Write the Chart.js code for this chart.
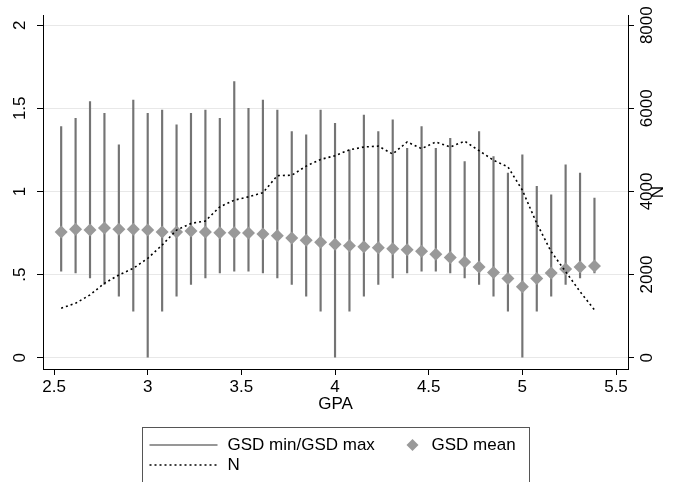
<!DOCTYPE html>
<html>
<head>
<meta charset="utf-8">
<script src="https://cdn.jsdelivr.net/npm/chart.js@4.4.1/dist/chart.umd.min.js"></script>
<style>
  html, body { margin: 0; padding: 0; background: #fff; }
</style>
</head>
<body>
<canvas id="gsdChart" width="683" height="482"></canvas>
<script>
// GPA bins (steps of 1/13)
const gpa = [2.538, 2.615, 2.692, 2.769, 2.846, 2.923, 3.000, 3.077, 3.154, 3.231,
             3.308, 3.385, 3.462, 3.538, 3.615, 3.692, 3.769, 3.846, 3.923, 4.000,
             4.077, 4.154, 4.231, 4.308, 4.385, 4.462, 4.538, 4.615, 4.692, 4.769,
             4.846, 4.923, 5.000, 5.077, 5.154, 5.231, 5.308, 5.385];
const gsdMin = [0.52, 0.51, 0.48, 0.44, 0.37, 0.28, 0.00, 0.28, 0.37, 0.44,
                0.48, 0.51, 0.52, 0.52, 0.51, 0.48, 0.44, 0.37, 0.28, 0.00,
                0.28, 0.37, 0.44, 0.48, 0.51, 0.52, 0.52, 0.51, 0.48, 0.44,
                0.37, 0.28, 0.00, 0.28, 0.37, 0.44, 0.48, 0.51];
const gsdMax = [1.39, 1.44, 1.54, 1.47, 1.28, 1.55, 1.47, 1.49, 1.40, 1.47,
                1.49, 1.44, 1.66, 1.50, 1.55, 1.49, 1.36, 1.34, 1.49, 1.41,
                1.25, 1.46, 1.36, 1.43, 1.26, 1.39, 1.26, 1.32, 1.18, 1.36,
                1.21, 1.11, 1.22, 1.03, 0.98, 1.16, 1.11, 0.96];
const gsdMean = [0.756, 0.772, 0.768, 0.780, 0.772, 0.772, 0.768, 0.756, 0.756, 0.762,
                 0.756, 0.752, 0.752, 0.750, 0.744, 0.734, 0.720, 0.706, 0.694, 0.682,
                 0.674, 0.668, 0.662, 0.656, 0.650, 0.640, 0.622, 0.602, 0.576, 0.546,
                 0.512, 0.476, 0.426, 0.476, 0.510, 0.534, 0.546, 0.552];
const nCount = [1190, 1310, 1510, 1790, 1990, 2150, 2390, 2710, 3070, 3230,
                3290, 3630, 3790, 3870, 3970, 4380, 4390, 4610, 4770, 4860,
                5000, 5070, 5090, 4900, 5190, 5030, 5190, 5070, 5210, 4980,
                4750, 4590, 4030, 3230, 2550, 2070, 1590, 1150];

const gpaTicks = [2.5, 3, 3.5, 4, 4.5, 5, 5.5];
const gsdTicks = [0, 0.5, 1, 1.5, 2];
const nTicks = [0, 2000, 4000, 6000, 8000];

const FONT = '"Liberation Sans", Arial, Helvetica, sans-serif';
const BAR_COLOR = '#747474';
const MEAN_COLOR = '#999999';

Chart.defaults.font.family = FONT;
Chart.defaults.font.size = 17;
Chart.defaults.color = '#000';

function fixedTicks(values) {
    return axis => { axis.ticks = values.map(v => ({ value: v })); };
}

// Stata-like boxed legend below the plot, plus the rotated "N" axis title
const stataExtras = {
    id: 'stataExtras',
    afterDraw(chart) {
        const ctx = chart.ctx;
        const area = chart.chartArea;
        const sets = chart.data.datasets;
        ctx.save();

        // right axis title
        ctx.font = '17px ' + FONT;
        ctx.fillStyle = '#000';
        ctx.textAlign = 'center';
        ctx.textBaseline = 'middle';
        ctx.translate(658, (area.top + area.bottom) / 2);
        ctx.rotate(-Math.PI / 2);
        ctx.fillText('N', 0, 0);
        ctx.setTransform(1, 0, 0, 1, 0, 0);

        // legend box
        const cx = (area.left + area.right) / 2;
        const left = Math.round(cx - 194) + 0.5;
        ctx.strokeStyle = '#555';
        ctx.lineWidth = 1;
        ctx.strokeRect(left, 427.5, 387, 80);

        const r1 = 445, r2 = 465;
        ctx.textAlign = 'left';

        ctx.strokeStyle = BAR_COLOR;
        ctx.lineWidth = 1.5;
        ctx.beginPath();
        ctx.moveTo(left + 7, r1);
        ctx.lineTo(left + 75, r1);
        ctx.stroke();
        ctx.fillText(sets[0].label, left + 85, r1);

        ctx.fillStyle = MEAN_COLOR;
        ctx.beginPath();
        const dx = left + 270;
        ctx.moveTo(dx, r1 - 6);
        ctx.lineTo(dx + 6, r1);
        ctx.lineTo(dx, r1 + 6);
        ctx.lineTo(dx - 6, r1);
        ctx.closePath();
        ctx.fill();
        ctx.fillStyle = '#000';
        ctx.fillText(sets[1].label, left + 289, r1);

        ctx.strokeStyle = '#000';
        ctx.setLineDash([2, 3]);
        ctx.beginPath();
        ctx.moveTo(left + 7, r2);
        ctx.lineTo(left + 75, r2);
        ctx.stroke();
        ctx.setLineDash([]);
        ctx.fillText(sets[2].label, left + 85, r2);

        ctx.restore();
    }
};

const ctx = document.getElementById('gsdChart').getContext('2d');
new Chart(ctx, {
    type: 'bar',
    data: {
        datasets: [{
            type: 'bar',
            label: 'GSD min/GSD max',
            data: gpa.map((x, i) => ({ x: x, y: [gsdMin[i], gsdMax[i]] })),
            backgroundColor: BAR_COLOR,
            barThickness: 1.5,
            yAxisID: 'y',
            order: 3
        }, {
            type: 'scatter',
            label: 'GSD mean',
            data: gpa.map((x, i) => ({ x: x, y: gsdMean[i] })),
            pointStyle: 'rectRot',
            pointRadius: 6.5,
            pointBackgroundColor: MEAN_COLOR,
            pointBorderWidth: 0,
            yAxisID: 'y',
            order: 2
        }, {
            type: 'line',
            label: 'N',
            data: gpa.map((x, i) => ({ x: x, y: nCount[i] })),
            borderColor: '#000',
            borderWidth: 1.6,
            borderDash: [2, 3],
            pointRadius: 0,
            fill: false,
            tension: 0,
            yAxisID: 'y2',
            order: 1
        }]
    },
    options: {
        responsive: false,
        animation: false,
        layout: { padding: { top: 15, bottom: 63, left: 0, right: 0 } },
        plugins: {
            legend: { display: false },
            tooltip: { enabled: false }
        },
        scales: {
            x: {
                type: 'linear',
                min: 2.441,
                max: 5.564,
                offset: false,
                afterBuildTicks: fixedTicks(gpaTicks),
                afterFit: s => { s.height = 50; },
                ticks: { autoSkip: false, maxRotation: 0, padding: 2, callback: v => String(v) },
                grid: { offset: false, drawOnChartArea: false, tickLength: 6, tickColor: '#000' },
                border: { color: '#000', width: 1 },
                title: { display: true, text: 'GPA', padding: { top: 0, bottom: 4 } }
            },
            y: {
                position: 'left',
                min: -0.068,
                max: 2.06,
                afterBuildTicks: fixedTicks(gsdTicks),
                afterFit: s => { s.width = 43; },
                ticks: {
                    autoSkip: false, minRotation: 90, maxRotation: 90, crossAlign: 'center', padding: 5,
                    callback: v => v === 0 ? '0' : String(v).replace(/^0\./, '.')
                },
                grid: { color: '#e8e8e8', tickColor: '#000', tickLength: 6 },
                border: { color: '#000', width: 1 }
            },
            y2: {
                position: 'right',
                min: -272,
                max: 8240,
                afterBuildTicks: fixedTicks(nTicks),
                afterFit: s => { s.width = 55; },
                ticks: { autoSkip: false, minRotation: 90, maxRotation: 90, crossAlign: 'center', padding: -6, callback: v => String(v) },
                grid: { drawOnChartArea: false, tickColor: '#000', tickLength: 6 },
                border: { color: '#000', width: 1 }
            }
        }
    },
    plugins: [stataExtras]
});
</script>
</body>
</html>
